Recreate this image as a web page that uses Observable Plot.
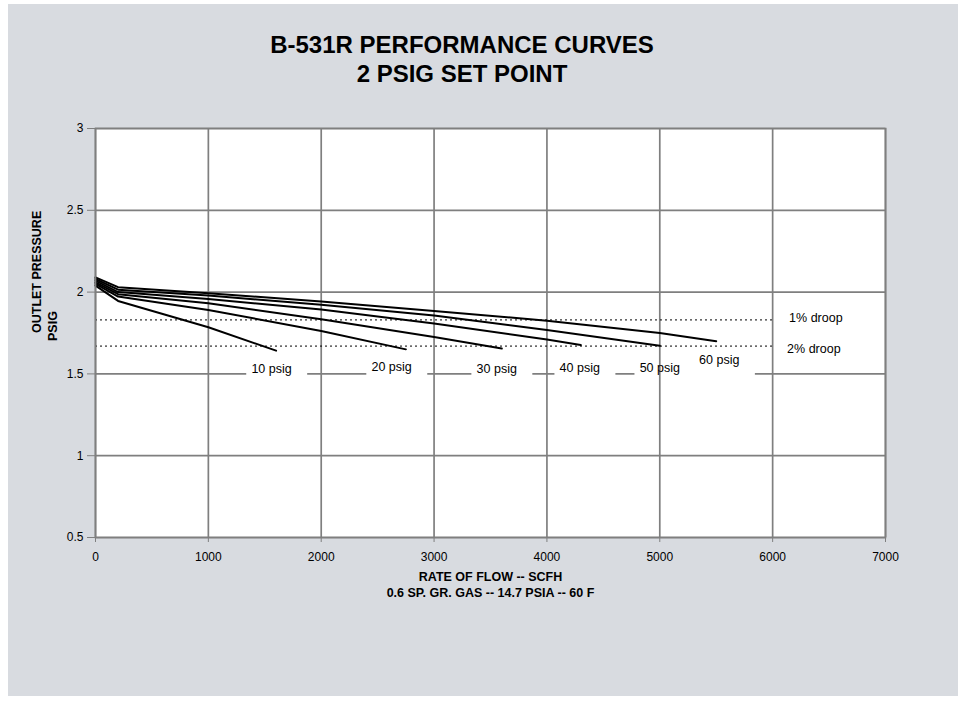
<!DOCTYPE html>
<html>
<head>
<meta charset="utf-8">
<script src="https://cdn.jsdelivr.net/npm/d3@7"></script>
<script src="https://cdn.jsdelivr.net/npm/@observablehq/plot@0.6"></script>
<style>
  html, body { margin: 0; padding: 0; background: #ffffff; }
  #page { position: relative; width: 966px; height: 702px; background: #ffffff; overflow: hidden; font-family: "Liberation Sans", Arial, sans-serif; }
  #panel { position: absolute; left: 8px; top: 4px; width: 950px; height: 692px; background: #d8dbe0; }
  .title { position: absolute; left: 0; width: 924px; text-align: center; font-weight: bold; font-size: 24px; line-height: 24px; color: #000; }
  #chart { position: absolute; left: 0; top: 0; }
</style>
</head>
<body>
<div id="page">
  <div id="panel"></div>
  <div class="title" style="top:33px">B-531R PERFORMANCE CURVES</div>
  <div class="title" style="top:62px">2 PSIG SET POINT</div>
  <div id="chart"></div>
</div>
<script>
// ---- Data ----
const xTicks = [0, 1000, 2000, 3000, 4000, 5000, 6000, 7000];
const yTicks = [0.5, 1, 1.5, 2, 2.5, 3];

const seriesNames = ["10 psig", "20 psig", "30 psig", "40 psig", "50 psig", "60 psig"];

const flow10 = [0, 200, 1000, 1600];
const psi10  = [2.04, 1.946, 1.785, 1.642];
const flow20 = [0, 200, 1000, 2000, 2750];
const psi20  = [2.05, 1.973, 1.891, 1.762, 1.65];
const flow30 = [0, 200, 1000, 2000, 3000, 3600];
const psi30  = [2.06, 1.987, 1.932, 1.834, 1.725, 1.655];
const flow40 = [0, 200, 1000, 2000, 3000, 4000, 4300];
const psi40  = [2.07, 2.0, 1.958, 1.893, 1.808, 1.71, 1.676];
const flow50 = [0, 200, 1000, 2000, 3000, 4000, 5000];
const psi50  = [2.08, 2.015, 1.979, 1.922, 1.857, 1.768, 1.672];
const flow60 = [0, 200, 1000, 2000, 3000, 4000, 5000, 5500];
const psi60  = [2.09, 2.03, 1.993, 1.942, 1.885, 1.825, 1.75, 1.70];

const labelText     = ["10 psig", "20 psig", "30 psig", "40 psig", "50 psig", "60 psig"];
const labelFlow     = [1560, 2624, 3555, 4291, 5000, 5527];
const labelPressure = [1.533, 1.541, 1.531, 1.537, 1.537, 1.582];

const droopLevels        = [1.83, 1.67];
const droopText          = ["1% droop", "2% droop"];
const droopLabelFlow     = [6383, 6365];
const droopLabelPressure = [1.841, 1.653];

// ---- Build tables ----
const flows = [flow10, flow20, flow30, flow40, flow50, flow60];
const psis  = [psi10, psi20, psi30, psi40, psi50, psi60];
const points = [];
seriesNames.forEach((name, i) => {
  flows[i].forEach((f, j) => points.push({series: name, flow: f, pressure: psis[i][j]}));
});
const labels = labelText.map((t, i) => ({text: t, flow: labelFlow[i], pressure: labelPressure[i]}));
const droops = droopText.map((t, i) => ({text: t, level: droopLevels[i], flow: droopLabelFlow[i], pressure: droopLabelPressure[i]}));

const grid = "#7f7f7f";

const chart = Plot.plot({
  width: 966,
  height: 702,
  marginLeft: 95,
  marginRight: 81,
  marginTop: 128,
  marginBottom: 165,
  style: {background: "transparent", fontFamily: "'Liberation Sans', Arial, sans-serif", fontSize: "12px", color: "#000"},
  x: {domain: [0, 7000]},
  y: {domain: [0.5, 3]},
  marks: [
    Plot.frame({fill: "#ffffff", stroke: "none"}),
    Plot.ruleY(yTicks, {stroke: grid, strokeWidth: 1.7}),
    Plot.rect(labels, {x1: d => d.flow - 220, x2: d => d.flow + 320, y1: d => d.pressure - 0.1, y2: d => d.pressure + 0.06, fill: "#ffffff"}),
    Plot.ruleX(xTicks, {stroke: grid, strokeWidth: 1.7}),
    Plot.ruleY(droops, {y: "level", x1: 0, x2: 6000, stroke: "#000", strokeWidth: 1, strokeDasharray: "2,3"}),
    Plot.line(points, {x: "flow", y: "pressure", z: "series", stroke: "#000", strokeWidth: 2}),
    Plot.text(labels, {x: "flow", y: "pressure", text: "text", fontSize: 12.5, fill: "#000"}),
    Plot.text(droops, {x: "flow", y: "pressure", text: "text", fontSize: 12.5, fill: "#000"}),
    Plot.frame({stroke: grid, strokeWidth: 1.7}),
    Plot.axisX({ticks: xTicks, tickSize: 5, tickPadding: 10, tickFormat: d3.format("d"), label: null, stroke: grid, fontSize: 12}),
    Plot.axisY({ticks: yTicks, tickSize: 8, tickPadding: 4, tickFormat: d => String(d), label: null, stroke: grid, fontSize: 12}),
    Plot.text(["RATE OF FLOW -- SCFH"], {text: d => d, frameAnchor: "bottom", dy: 43, fontWeight: "bold", fontSize: 12.5, fill: "#000"}),
    Plot.text(["0.6 SP. GR. GAS -- 14.7 PSIA -- 60 F"], {text: d => d, frameAnchor: "bottom", dy: 59, fontWeight: "bold", fontSize: 12.5, fill: "#000"}),
    Plot.text(["OUTLET PRESSURE"], {text: d => d, frameAnchor: "left", dx: -59, rotate: -90, fontWeight: "bold", fontSize: 12.5, fill: "#000"}),
    Plot.text(["PSIG"], {text: d => d, frameAnchor: "left", dx: -43, dy: 8, rotate: -90, fontWeight: "bold", fontSize: 12.5, fill: "#000"})
  ]
});
document.getElementById("chart").appendChild(chart);
</script>
</body>
</html>
